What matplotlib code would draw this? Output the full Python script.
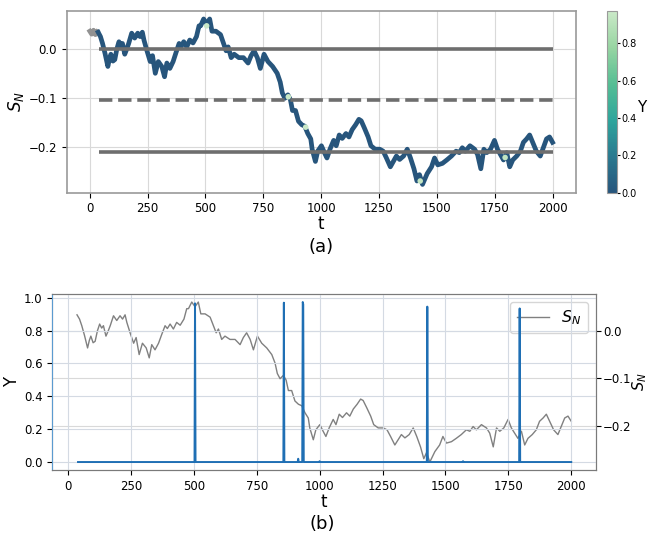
import numpy as np
import matplotlib
matplotlib.use("Agg")
import matplotlib.pyplot as plt
from matplotlib.colors import LinearSegmentedColormap

# S_N walk; the first few samples come before Y is available
t_pre = [0, 8, 16, 24, 32]
s_pre = [0.036, 0.030, 0.038, 0.029, 0.035]

t = [36, 46, 55, 66, 78, 85, 91, 100, 108, 117, 126, 134, 141, 151, 160, 168,
     181, 194, 207, 217, 227, 234, 247, 261, 271, 283, 296, 311, 323, 333, 346,
     360, 373, 386, 395, 406, 419, 432, 446, 461, 472, 479, 492, 505, 518, 528,
     545, 565, 578, 589, 598, 611, 624, 644, 664, 684, 697, 710, 724, 737, 753,
     770, 790, 810, 823, 832, 843, 856, 867, 876, 889, 902, 916, 929, 942, 955,
     961, 975, 985, 1001, 1014, 1025, 1038, 1054, 1065, 1078, 1091, 1107, 1120,
     1134, 1149, 1163, 1173, 1187, 1203, 1215, 1233, 1253, 1268, 1282, 1299,
     1312, 1325, 1339, 1356, 1372, 1386, 1401, 1414, 1425, 1438, 1458, 1477,
     1490, 1504, 1524, 1543, 1563, 1583, 1597, 1610, 1623, 1643, 1663, 1676,
     1690, 1703, 1716, 1732, 1749, 1762, 1775, 1788, 1802, 1815, 1828, 1845,
     1861, 1874, 1888, 1901, 1914, 1930, 1947, 1960, 1974, 1987, 2000]
s_n = [0.034, 0.025, 0.011, -0.010, -0.036, -0.020, -0.011, -0.025, -0.022,
       0.000, 0.0145, 0.006, 0.011, -0.011, 0.000, 0.011, 0.032, 0.022, 0.032,
       0.025, 0.034, 0.018, -0.004, -0.026, -0.014, -0.050, -0.026, -0.036,
       -0.057, -0.029, -0.040, -0.026, -0.007, 0.011, 0.005, 0.0145, 0.004,
       0.018, 0.012, 0.025, 0.047, 0.047, 0.061, 0.051, 0.061, 0.036, 0.036,
       0.029, 0.011, -0.004, 0.004, -0.018, -0.011, -0.018, -0.018, -0.029,
       -0.014, -0.004, -0.018, -0.040, -0.011, -0.026, -0.036, -0.050, -0.068,
       -0.090, -0.101, -0.094, -0.104, -0.126, -0.126, -0.148, -0.155, -0.158,
       -0.173, -0.184, -0.205, -0.230, -0.209, -0.198, -0.212, -0.223, -0.205,
       -0.187, -0.198, -0.176, -0.183, -0.173, -0.180, -0.165, -0.155, -0.144,
       -0.147, -0.162, -0.180, -0.198, -0.205, -0.205, -0.209, -0.223, -0.241,
       -0.230, -0.219, -0.226, -0.219, -0.205, -0.223, -0.245, -0.270, -0.257,
       -0.277, -0.255, -0.241, -0.223, -0.237, -0.234, -0.227, -0.219, -0.209,
       -0.212, -0.202, -0.209, -0.198, -0.205, -0.216, -0.245, -0.205, -0.212,
       -0.205, -0.187, -0.205, -0.216, -0.227, -0.212, -0.241, -0.227, -0.219,
       -0.209, -0.191, -0.184, -0.176, -0.191, -0.209, -0.219, -0.202, -0.184,
       -0.180, -0.191]

# Y indicator: zero except for short spikes
y_t = [40, 503, 505, 507, 856, 858, 860, 913, 915, 917, 931, 933, 935, 937,
       998, 1000, 1002, 1426, 1428, 1430, 1568, 1570, 1572, 1793, 1795, 1797,
       2000]
y_val = [0, 0, 0.966, 0, 0, 0.970, 0, 0, 0.02, 0, 0, 0.974, 0.96, 0,
         0, 0.005, 0, 0, 0.946, 0, 0, 0.005, 0, 0, 0.935, 0, 0]

# spike times highlighted on the walk
spike_t = [505, 858, 933, 1428, 1795]
spike_s = [0.047, -0.098, -0.160, -0.270, -0.222]
spike_y = [0.966, 0.970, 0.974, 0.946, 0.935]

# threshold levels
levels = [0.0, -0.105, -0.21]
level_styles = ["-", "--", "-"]

cmap = LinearSegmentedColormap.from_list(
    "bluegreen", ["#27557c", "#2a7a90", "#2ea59c", "#56be94", "#98d5a2", "#cbe9c8"])
norm = plt.Normalize(0, max(spike_y))

plt.rcParams["font.family"] = "DejaVu Sans"
fig = plt.figure(figsize=(6.48, 5.43), dpi=100)

# ---- (a)
ax = fig.add_axes([0.1029, 0.6451, 0.7855, 0.3352])
cax = fig.add_axes([0.9367, 0.6451, 0.0154, 0.3352])
ax.plot(t_pre, s_pre, color="#929292", lw=3.4, solid_joinstyle="round")
ax.plot(t, s_n, color=cmap(0.0), lw=3.4, solid_joinstyle="round", zorder=2)
sc = ax.scatter(spike_t, spike_s, c=spike_y, cmap=cmap, norm=norm, s=16,
                zorder=3, linewidths=0)
for lv, ls in zip(levels, level_styles):
    ax.hlines(lv, 40, 2000, colors="#6e6e6e", lw=2.6, linestyles=ls, zorder=4)
ax.grid(True, color="#d9d9d9", lw=0.8)
ax.set_axisbelow(True)
ax.set_xticks([0, 250, 500, 750, 1000, 1250, 1500, 1750, 2000])
ax.set_yticks([0.0, -0.1, -0.2])
ax.tick_params(labelsize=8.5)
ax.set_xlabel("t", fontsize=12, labelpad=0)
ax.set_ylabel("$S_N$", fontsize=12, labelpad=2)
for sp in ax.spines.values():
    sp.set_color("#9a9a9a")
    sp.set_linewidth(1.2)
cb = fig.colorbar(sc, cax=cax)
cb.outline.set_edgecolor("#9a9a9a")
cb.ax.tick_params(labelsize=7, length=2, pad=1)
cb.set_ticks([0.0, 0.2, 0.4, 0.6, 0.8])
cb.set_label("Y", rotation=0, fontsize=11, ha="center", va="center")
cb.ax.yaxis.set_label_coords(3.45, 0.47)
fig.text(0.495, 0.545, "(a)", ha="center", va="center", fontsize=13)

# ---- (b)
bx = fig.add_axes([0.0807, 0.1344, 0.839, 0.3241])
bx.plot(y_t, y_val, color="#1f6fb4", lw=1.4, zorder=3)
bx.set_ylabel("Y", fontsize=12, labelpad=2)
bx.set_xlabel("t", fontsize=12, labelpad=0)
bx.set_xticks([0, 250, 500, 750, 1000, 1250, 1500, 1750, 2000])
bx.set_yticks([0.0, 0.2, 0.4, 0.6, 0.8, 1.0])
bx.tick_params(labelsize=8.5)
bx.grid(True, color="#d4dae3", lw=0.8)

bx2 = bx.twinx()
bx2.plot(t, s_n, color="#808080", lw=1.0, label="$S_N$")
bx2.set_yticks([0.0, -0.1, -0.2])
bx2.tick_params(labelsize=8.5, pad=1.5)
bx2.set_ylabel("$S_N$", fontsize=10.5, labelpad=-1)
bx2.grid(True, axis="y", color="#d9d9d9", lw=0.8)
bx2.legend(loc="upper right", fontsize=11.5, handlelength=2)
bx.set_zorder(bx2.get_zorder() + 1)
bx.patch.set_visible(False)
for a in (bx, bx2):
    for sp in a.spines.values():
        sp.set_color("#7a7a7a")
bx.spines["left"].set_color("#5b9bd0")
fig.text(0.498, 0.035, "(b)", ha="center", va="center", fontsize=13)

fig.savefig("out.png", dpi=100)
